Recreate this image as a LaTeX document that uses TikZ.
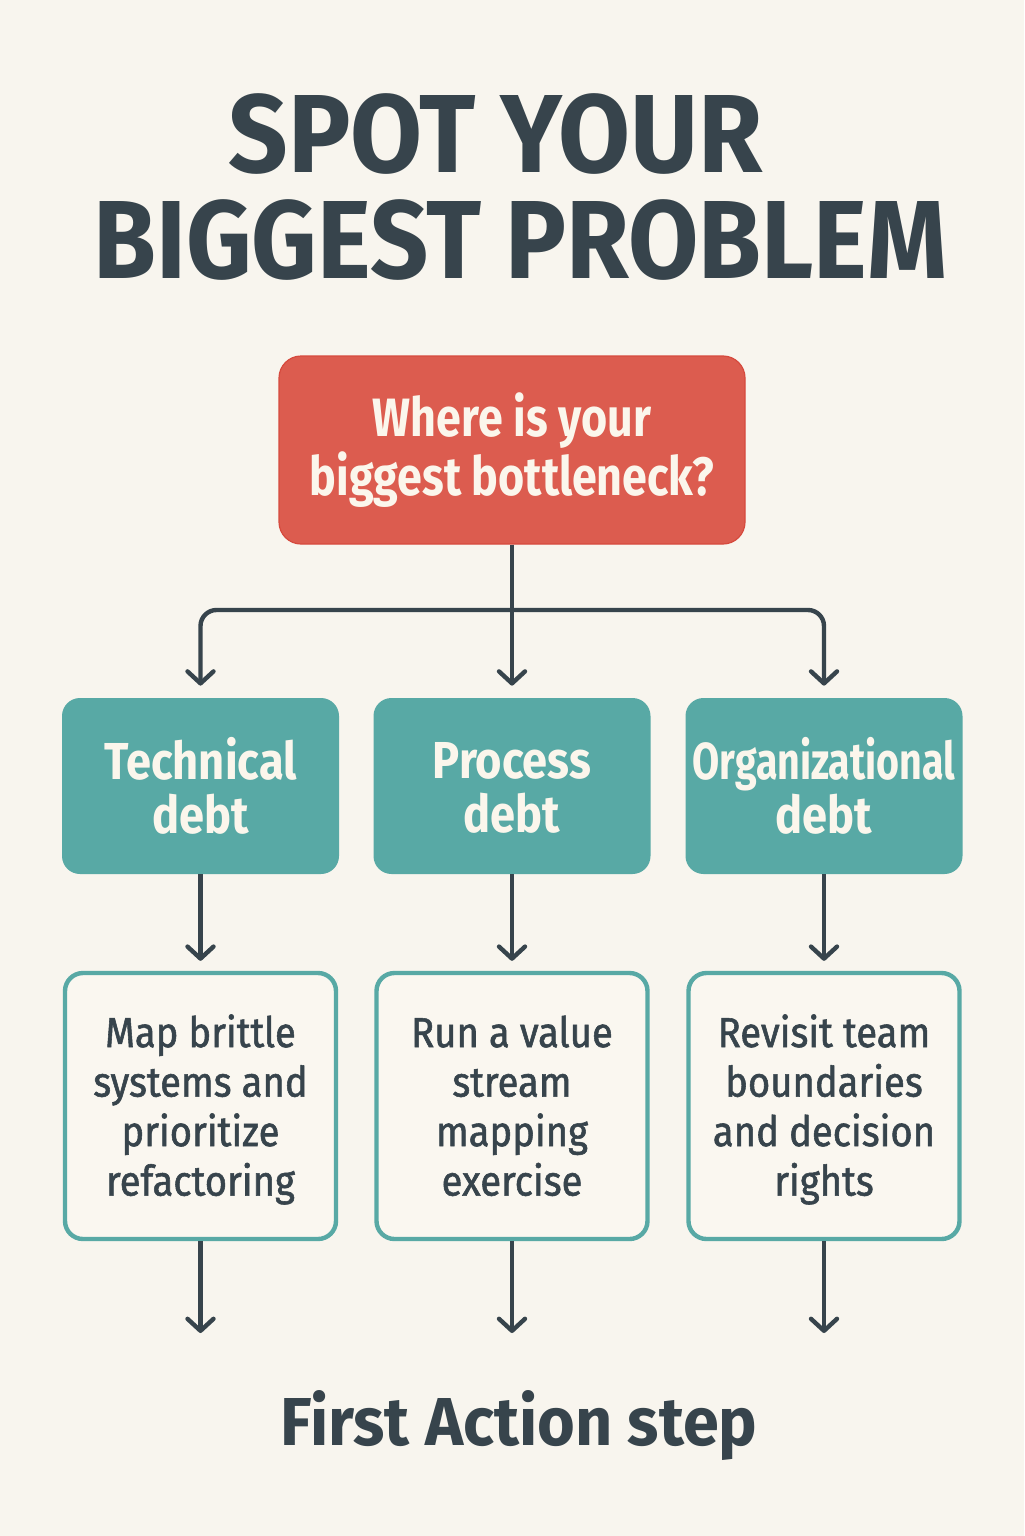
\documentclass[tikz,border=0pt]{standalone}
\usepackage{fontspec}
\usepackage{graphicx}
\usetikzlibrary{arrows.meta}
\setmainfont{Fira Sans}
\newfontfamily\titlefont{Fira Sans}
\newfontfamily\redfont[FakeStretch=0.83]{Fira Sans}
\newfontfamily\tealfont[FakeStretch=0.87]{Fira Sans}
\newfontfamily\bodyfont[FakeStretch=0.91,FakeBold=1.3]{Fira Sans}
\definecolor{bgc}{HTML}{F8F5EE}
\definecolor{darkc}{HTML}{37444C}
\definecolor{redfill}{HTML}{DC5C4F}
\definecolor{redline}{HTML}{D64A3E}
\definecolor{tealc}{HTML}{58A9A5}
\definecolor{creamc}{HTML}{FBF6EC}
\definecolor{boxfill}{HTML}{FAF7F0}
\newcommand\fitcap[3]{\resizebox{#1}{#2}{\raisebox{0pt}[\fontcharht\font`F]{#3}}}
\newcommand\tp{\vphantom{Tbl}}
\newcommand\tpw{\vphantom{Tbl}\rule{0pt}{19.8pt}}
\newcommand\bt{\vphantom{gpy}}
\begin{document}
\begin{tikzpicture}[x=0.5pt,y=-0.5pt,
  titletext/.style={inner sep=0pt, anchor=base west, text=darkc, font=\titlefont\bfseries\fontsize{56pt}{60pt}\selectfont},
  redbox/.style={draw=redline, line width=0.6pt, fill=redfill, rounded corners=11pt,
    minimum width=233pt, minimum height=94pt, inner sep=0pt, align=center, text=creamc,
    font=\redfont\bfseries\fontsize{27pt}{29.5pt}\selectfont},
  tealbox/.style={fill=tealc, rounded corners=9pt, minimum width=138.5pt, minimum height=88pt,
    inner sep=0pt, align=center, text=creamc, font=\tealfont\bfseries\fontsize{26pt}{27pt}\selectfont},
  actbox/.style={draw=tealc, line width=2.2pt, fill=boxfill, rounded corners=9pt,
    minimum width=135.5pt, minimum height=133pt, inner sep=0pt, align=center, text=darkc,
    font=\bodyfont\fontsize{21pt}{24.75pt}\selectfont},
  conn/.style={draw=darkc, line width=2.2pt},
  arr/.style={conn, -{Straight Barb[length=6pt,width=13pt,round]}}
]
\fill[bgc] (0,0) rectangle (1024,1536);
\useasboundingbox (0,0) rectangle (1024,1536);

% title
\node[titletext] (title1) at (228,172) {\fitcap{267pt}{38.5pt}{SPOT YOUR}};
\node[titletext] (title2) at (93,278) {\fitcap{427pt}{38.5pt}{BIGGEST PROBLEM}};

% question
\node[redbox] (red) at (512,450) {\tp Where is your\\biggest bottleneck?\bt};

% categories
\node[tealbox] (t1) at (200.5,786) {\tp Technical\\debt};
\node[tealbox] (t2) at (512,786) {\tp Process\\debt};
\node[tealbox] (t3) at (824,786) {\tp\scalebox{0.87}[1]{Organizational}\\debt};

% actions
\node[actbox] (w1) at (200.5,1106) {\tpw Map brittle\\systems and\\prioritize\\refactoring\bt};
\node[actbox] (w2) at (512,1106) {\tpw Run a value\\stream\\mapping\\exercise\bt};
\node[actbox] (w3) at (824,1106) {\tpw Revisit team\\boundaries\\and decision\\rights\bt};

% footer
\node[titletext] (foot) at (280,1445) {\fitcap{238.5pt}{23.5pt}{First Action step}};

% connectors
\coordinate (junc) at (512,610);
\draw[conn] (red.south) -- (junc);
\draw[arr, shorten >=6pt] (junc) -- (t2.north);
\draw[arr, rounded corners=8pt, shorten >=6pt] (junc) -| (t1.north);
\draw[arr, rounded corners=8pt, shorten >=6pt] (junc) -| (t3.north);

\draw[arr, shorten >=5pt] (t1.south) -- (w1.north);
\draw[arr, shorten >=5pt] (t2.south) -- (w2.north);
\draw[arr, shorten >=5pt] (t3.south) -- (w3.north);

\coordinate (e1) at (200.5,1333);
\coordinate (e2) at (512,1333);
\coordinate (e3) at (824,1333);
\draw[arr] (w1.south) -- (e1);
\draw[arr] (w2.south) -- (e2);
\draw[arr] (w3.south) -- (e3);
\end{tikzpicture}
\end{document}
